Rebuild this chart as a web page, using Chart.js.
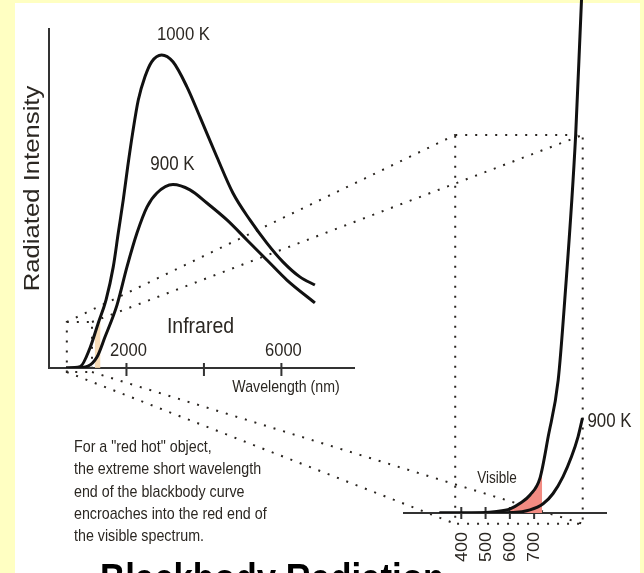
<!DOCTYPE html>
<html>
<head>
<meta charset="utf-8">
<script src="https://cdn.jsdelivr.net/npm/chart.js@4"></script>
<style>
  html, body { margin: 0; padding: 0; background: #ffffc2; }
  #wrap { position: relative; width: 644px; height: 573px; overflow: hidden; }
  #wrap canvas { position: absolute; left: 0; top: 0; }
</style>
</head>
<body>
<div id="wrap">
  <canvas id="main" width="644" height="573"></canvas>
  <canvas id="inset" width="644" height="573"></canvas>
</div>
<script>
// full curves, wavelength in nm, intensity relative to the 1000 K peak
var wave1000 = [440, 800, 1058, 1272, 1471, 1659, 1788, 1917, 2031, 2160, 2305, 2477, 2650, 2908, 3200, 3561, 3897, 4335, 4748, 5187, 5626, 6039, 6477, 6865]
var int1000  = [0, 0.4, 6.4, 14.4, 21.7, 32.3, 43.1, 53.7, 64.2, 75.1, 85.6, 93.0, 97.8, 100, 97.8, 89.8, 80.2, 67.4, 55.9, 47.3, 39.9, 33.9, 29.1, 26.5]
var wave900  = [440, 671, 1006, 1239, 1445, 1755, 2013, 2271, 2529, 2787, 3200, 3639, 4077, 4594, 5110, 5626, 6142, 6865]
var int900   = [0, 0, 0.6, 3.5, 9.9, 20.1, 32.3, 43.1, 51.4, 55.9, 58.6, 56.9, 52.7, 47.3, 40.9, 34.5, 28.1, 20.8]
var glowWave = [1180, 1272, 1330]
var glowInt  = [11, 14.4, 17]
var mainTicks = [2000, 4000, 6000]
var mainTickLabels = ['2000', '', '6000']

// close-up of the short wavelength end
var zoomWave1000 = [310, 400, 546, 601, 642, 683, 724, 758, 799, 826, 871, 895, 915]
var zoomInt1000  = [0, 0, 0.3, 0.8, 1.9, 3.5, 6.8, 14.9, 25.9, 41.5, 73.7, 100, 118]
var zoomWave900  = [310, 400, 614, 683, 737, 778, 819, 854, 881, 899]
var zoomInt900   = [0, 0, 0.1, 0.6, 1.8, 3.8, 7.1, 11.0, 14.9, 18.5]
var redWave = [601, 642, 683, 724, 733]
var redInt  = [0.8, 1.9, 3.5, 6.8, 7.8]
var zoomTicks = [400, 500, 600, 700]

// the box that is blown up, in each chart's own units
var boxMain  = { x: [460, 1110], y: [-1.3, 14.7] }
var boxInset = { x: [375, 900], y: [-2.1, 73.7] }

var note = ['For a "red hot" object,', 'the extreme short wavelength', 'end of the blackbody curve',
            'encroaches into the red end of', 'the visible spectrum.']

var SX = 0.87
var INK = '#2b2722'
var FONT = '"Liberation Sans", Arial, sans-serif'

function pts(xs, ys) {
  return xs.map(function (x, i) { return { x: x, y: ys[i] } })
}

function txt(ctx, s, x, y, size, align, rot, weight, color) {
  ctx.save()
  ctx.translate(x, y)
  ctx.scale(SX, 1)
  if (rot) ctx.rotate(rot)
  ctx.font = (weight || 'normal') + ' ' + size + 'px ' + FONT
  ctx.fillStyle = color || INK
  ctx.textAlign = align || 'left'
  ctx.textBaseline = rot ? 'middle' : 'alphabetic'
  ctx.fillText(s, 0, 0)
  ctx.restore()
}

function curve(data, width) {
  return {
    data: data, borderColor: '#111', borderWidth: width, pointRadius: 0,
    cubicInterpolationMode: 'monotone', fill: false
  }
}

var insetDecor = {
  id: 'insetDecor',
  beforeDatasetsDraw: function (chart) {
    var ctx = chart.ctx, xs = chart.scales.x, ys = chart.scales.y, a = chart.chartArea
    var y0 = ys.getPixelForValue(0)
    ctx.save()
    ctx.strokeStyle = '#333'
    ctx.lineWidth = 2
    ctx.beginPath()
    ctx.moveTo(a.left, y0)
    ctx.lineTo(a.right, y0)
    zoomTicks.forEach(function (t) {
      var px = xs.getPixelForValue(t)
      ctx.moveTo(px, y0 - 6)
      ctx.lineTo(px, y0 + 6)
    })
    ctx.stroke()
    ctx.restore()
  },
  afterDraw: function (chart) {
    var ctx = chart.ctx, xs = chart.scales.x, ys = chart.scales.y
    zoomTicks.forEach(function (t) {
      txt(ctx, String(t), xs.getPixelForValue(t) + 1, 532, 18, 'right', -Math.PI / 2)
    })
    txt(ctx, 'Visible', 497, 483, 15.6, 'center')
    var n = zoomWave900.length - 1
    txt(ctx, '900 K', xs.getPixelForValue(zoomWave900[n]) + 5, ys.getPixelForValue(zoomInt900[n]) + 9, 19.4, 'left')
  }
}

var insetChart = new Chart(document.getElementById('inset'), {
  type: 'line',
  data: {
    datasets: [
      curve(pts(zoomWave1000, zoomInt1000), 3),
      curve(pts(zoomWave900, zoomInt900), 3),
      { data: pts(redWave, redInt), borderWidth: 0, pointRadius: 0, cubicInterpolationMode: 'monotone',
        fill: 'origin', backgroundColor: '#f28b82' }
    ]
  },
  options: {
    responsive: false,
    animation: false,
    layout: { padding: { left: 403, right: 37, top: 0, bottom: 60 } },
    scales: {
      x: { type: 'linear', min: 160, max: 1000, display: false },
      y: { type: 'linear', min: 0, max: 100, display: false }
    },
    plugins: { legend: { display: false }, tooltip: { enabled: false } }
  },
  plugins: [insetDecor]
})

var mainDecor = {
  id: 'mainDecor',
  beforeDraw: function (chart) {
    var ctx = chart.ctx
    ctx.save()
    ctx.fillStyle = '#ffffc2'
    ctx.fillRect(0, 0, chart.width, chart.height)
    ctx.fillStyle = '#ffffff'
    ctx.fillRect(15, 3, 625, 570)
    ctx.restore()
  },
  beforeDatasetsDraw: function (chart) {
    var ctx = chart.ctx, xs = chart.scales.x, ys = chart.scales.y, a = chart.chartArea
    var xi = insetChart.scales.x, yi = insetChart.scales.y
    var s = { l: xs.getPixelForValue(boxMain.x[0]), r: xs.getPixelForValue(boxMain.x[1]),
              t: ys.getPixelForValue(boxMain.y[1]), b: ys.getPixelForValue(boxMain.y[0]) }
    var g = { l: xi.getPixelForValue(boxInset.x[0]), r: xi.getPixelForValue(boxInset.x[1]),
              t: yi.getPixelForValue(boxInset.y[1]), b: yi.getPixelForValue(boxInset.y[0]) }

    // dotted projection from the small box to the close-up
    ctx.save()
    ctx.strokeStyle = '#2a2520'
    ctx.lineWidth = 2
    ctx.setLineDash([2, 8])
    ctx.beginPath()
    ctx.rect(s.l, s.t, s.r - s.l, s.b - s.t)
    ctx.rect(g.l, g.t, g.r - g.l, g.b - g.t)
    ctx.moveTo(s.l, s.t); ctx.lineTo(g.l, g.t)
    ctx.moveTo(s.r, s.t); ctx.lineTo(g.r, g.t)
    ctx.moveTo(s.l, s.b); ctx.lineTo(g.l, g.b)
    ctx.moveTo(s.r, s.b); ctx.lineTo(g.r, g.b)
    ctx.stroke()
    ctx.restore()

    // axes
    ctx.save()
    ctx.strokeStyle = '#333'
    ctx.lineWidth = 2
    ctx.beginPath()
    ctx.moveTo(a.left, a.top)
    ctx.lineTo(a.left, a.bottom)
    ctx.lineTo(a.right, a.bottom)
    mainTicks.forEach(function (t) {
      var px = xs.getPixelForValue(t)
      ctx.moveTo(px, a.bottom - 5)
      ctx.lineTo(px, a.bottom + 8)
    })
    ctx.stroke()
    ctx.restore()
  },
  afterDraw: function (chart) {
    var ctx = chart.ctx, xs = chart.scales.x, ys = chart.scales.y
    mainTicks.forEach(function (t, i) {
      if (mainTickLabels[i]) txt(ctx, mainTickLabels[i], xs.getPixelForValue(t) + 2, 356, 19, 'center')
    })
    txt(ctx, '1000 K', 183.5, 40, 19.2, 'center')
    txt(ctx, '900 K', 172.5, 170, 19.5, 'center')
    txt(ctx, 'Infrared', 200.5, 333, 22.4, 'center')
    txt(ctx, 'Wavelength (nm)', 286, 392, 16.3, 'center')
    txt(ctx, 'Radiated Intensity', 33, 188.5, 25.7, 'center', -Math.PI / 2)
    note.forEach(function (line, i) {
      txt(ctx, line, 74, 452 + i * 22.3, 16.4, 'left')
    })
    txt(ctx, 'Blackbody Radiation', 100, 592, 40, 'left', 0, 'bold', '#000')
  }
}

var mainChart = new Chart(document.getElementById('main'), {
  type: 'line',
  data: {
    datasets: [
      curve(pts(wave1000, int1000), 3),
      curve(pts(wave900, int900), 3),
      { data: pts(glowWave, glowInt), borderWidth: 0, pointRadius: 0,
        fill: 'origin', backgroundColor: 'rgba(246, 214, 170, 0.85)' }
    ]
  },
  options: {
    responsive: false,
    animation: false,
    layout: { padding: { left: 49, right: 289, top: 28, bottom: 205 } },
    scales: {
      x: { type: 'linear', min: 0, max: 7900, display: false },
      y: { type: 'linear', min: 0, max: 108.6, display: false }
    },
    plugins: { legend: { display: false }, tooltip: { enabled: false } }
  },
  plugins: [mainDecor]
})
</script>
</body>
</html>
